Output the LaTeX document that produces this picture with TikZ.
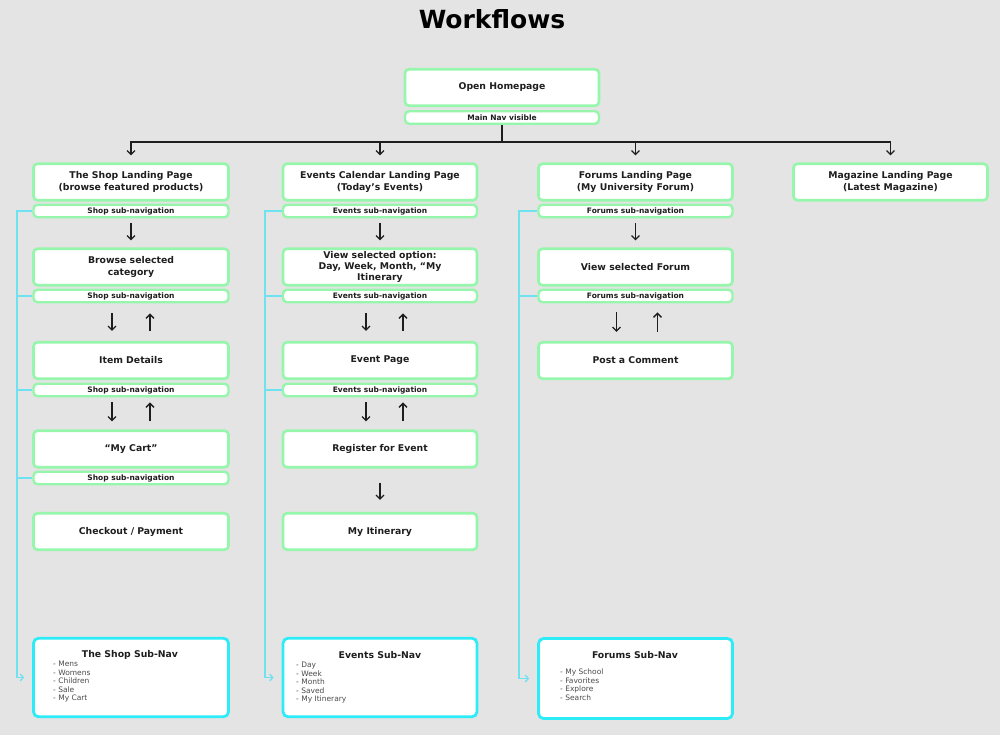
\documentclass[tikz,border=0pt]{standalone}
\usepackage{fontspec}
\setmainfont{DejaVu Sans}
\usetikzlibrary{arrows.meta}
\definecolor{bg}{RGB}{228,228,228}
\definecolor{ngreen}{RGB}{150,246,172}
\definecolor{ncyan}{RGB}{45,236,248}
\definecolor{rail}{RGB}{110,226,240}
\definecolor{ink}{RGB}{30,30,30}
\begin{document}
\begin{tikzpicture}[x=1pt,y=-1pt,
  wbox/.style={draw=ngreen, line width=2.6pt, fill=white, rounded corners=4pt,
    minimum width=194pt, minimum height=36.5pt, align=center, inner sep=1pt, text=ink,
    font=\bfseries\fontsize{9.3}{11.5}\selectfont},
  bar/.style={wbox, line width=2.4pt, minimum height=12.5pt, font=\bfseries\fontsize{7.5}{8}\selectfont},
  navbox/.style={draw=ncyan, line width=2.8pt, fill=white, rounded corners=5pt,
    minimum width=194pt, minimum height=78.5pt},
  navtitle/.style={font=\bfseries\fontsize{9.3}{11}\selectfont, text=ink, inner sep=0pt},
  navlist/.style={font=\fontsize{7.5}{8.5}\selectfont, text=ink!80, align=left, inner sep=0pt, anchor=north west},
  blk/.style={draw=ink, line width=1.3pt},
  blkarr/.style={blk, -{Straight Barb[length=4pt,width=8pt]}},
  cy/.style={draw=rail, line width=1.3pt},
  cyarr/.style={cy, -{Straight Barb[length=3pt,width=7pt]}}
]
\useasboundingbox[fill=bg] (0,0) rectangle (1000,735);

\node[font=\bfseries\fontsize{25}{28}\selectfont, text=black] (title) at (492,19.5) {Workflows};

% top
\node[wbox] (home) at (502,87.5) {Open Homepage};
\node[bar] (mainnav) at (502,117.5) {Main Nav visible};

% Shop column
\node[wbox, minimum width=195pt] (shopL) at (131,182) {The Shop Landing Page\\(browse featured products)};
\node[bar, minimum width=195pt] (shopS1) at (131,211) {Shop sub-navigation};
\node[wbox, minimum width=195pt] (shopB2) at (131,267) {Browse selected\\category};
\node[bar, minimum width=195pt] (shopS2) at (131,296) {Shop sub-navigation};
\node[wbox, minimum width=195pt] (shopB3) at (131,360.5) {Item Details};
\node[bar, minimum width=195pt] (shopS3) at (131,390) {Shop sub-navigation};
\node[wbox, minimum width=195pt] (shopB4) at (131,449) {“My Cart”};
\node[bar, minimum width=195pt] (shopS4) at (131,478) {Shop sub-navigation};
\node[wbox, minimum width=195pt] (shopB5) at (131,531.5) {Checkout / Payment};
\node[navbox, minimum width=195pt] (shopNav) at (131,677.5) {};
\node[navtitle] (shopNavT) at (130,655) {The Shop Sub-Nav};
\node[navlist] (shopNavL) at (53,661) {- Mens\\- Womens\\- Children\\- Sale\\- My Cart};

% Events column
\node[wbox] (evL) at (380,182) {Events Calendar Landing Page\\(Today’s Events)};
\node[bar] (evS1) at (380,211) {Events sub-navigation};
\node[wbox, font=\bfseries\fontsize{9.3}{11}\selectfont] (evB2) at (380,267) {View selected option:\\Day, Week, Month, “My\\Itinerary};
\node[bar] (evS2) at (380,296) {Events sub-navigation};
\node[wbox] (evB3) at (380,360.5) {Event Page};
\node[bar] (evS3) at (380,390) {Events sub-navigation};
\node[wbox] (evB4) at (380,449) {Register for Event};
\node[wbox] (evB5) at (380,531.5) {My Itinerary};
\node[navbox] (evNav) at (380,677.5) {};
\node[navtitle] (evNavT) at (380,655) {Events Sub-Nav};
\node[navlist] (evNavL) at (296,662) {- Day\\- Week\\- Month\\- Saved\\- My Itinerary};

% Forums column
\node[wbox] (foL) at (635.5,182) {Forums Landing Page\\(My University Forum)};
\node[bar] (foS1) at (635.5,211) {Forums sub-navigation};
\node[wbox] (foB2) at (635.5,267) {View selected Forum};
\node[bar] (foS2) at (635.5,296) {Forums sub-navigation};
\node[wbox] (foB3) at (635.5,360.5) {Post a Comment};
\node[navbox, minimum height=80pt] (foNav) at (635.5,678.5) {};
\node[navtitle] (foNavT) at (635,655) {Forums Sub-Nav};
\node[navlist] (foNavL) at (560,669) {- My School\\- Favorites\\- Explore\\- Search};

% Magazine
\node[wbox] (magL) at (890.5,182) {Magazine Landing Page\\(Latest Magazine)};

% main connectors
\coordinate (hub) at (502,142);
\draw[blk] (mainnav.south) -- (hub);
\draw[blkarr, shorten >=7pt] (hub) -| (shopL.north);
\draw[blkarr, shorten >=7pt] (hub) -| (evL.north);
\draw[blkarr, shorten >=7pt] (hub) -| (foL.north);
\draw[blkarr, shorten >=7pt] (hub) -| (magL.north);

% shop flow arrows
\draw[blkarr, shorten <=5pt, shorten >=7pt] (shopS1.south) -- (shopB2.north);
\draw[blkarr, shorten <=10pt, shorten >=10pt] ([xshift=-19pt]shopS2.south) -- ([xshift=-19pt]shopB3.north);
\draw[blkarr, shorten <=10pt, shorten >=10pt] ([xshift=19pt]shopB3.north) -- ([xshift=19pt]shopS2.south);
\draw[blkarr, shorten <=5pt, shorten >=8pt] ([xshift=-19pt]shopS3.south) -- ([xshift=-19pt]shopB4.north);
\draw[blkarr, shorten <=8pt, shorten >=5pt] ([xshift=19pt]shopB4.north) -- ([xshift=19pt]shopS3.south);

% events flow arrows
\draw[blkarr, shorten <=5pt, shorten >=7pt] (evS1.south) -- (evB2.north);
\draw[blkarr, shorten <=10pt, shorten >=10pt] ([xshift=-14pt]evS2.south) -- ([xshift=-14pt]evB3.north);
\draw[blkarr, shorten <=10pt, shorten >=10pt] ([xshift=23pt]evB3.north) -- ([xshift=23pt]evS2.south);
\draw[blkarr, shorten <=5pt, shorten >=8pt] ([xshift=-14pt]evS3.south) -- ([xshift=-14pt]evB4.north);
\draw[blkarr, shorten <=8pt, shorten >=5pt] ([xshift=23pt]evB4.north) -- ([xshift=23pt]evS3.south);
\draw[blkarr, shorten <=14pt, shorten >=12pt] (evB4.south) -- (evB5.north);

% forums flow arrows
\draw[blkarr, shorten <=5pt, shorten >=7pt] (foS1.south) -- (foB2.north);
\draw[blkarr, shorten <=9pt, shorten >=9pt] ([xshift=-19pt]foS2.south) -- ([xshift=-19pt]foB3.north);
\draw[blkarr, shorten <=9pt, shorten >=9pt] ([xshift=22pt]foB3.north) -- ([xshift=22pt]foS2.south);

% sub-nav rails
\coordinate (shopRail) at (17,0);
\coordinate (evRail) at (265,0);
\coordinate (foRail) at (519,0);

\draw[cyarr, shorten >=8pt] (shopS1.west) -- (shopS1.west -| shopRail) |- (shopNav.west);
\draw[cy] (shopS2.west) -- (shopS2.west -| shopRail);
\draw[cy] (shopS3.west) -- (shopS3.west -| shopRail);
\draw[cy] (shopS4.west) -- (shopS4.west -| shopRail);

\draw[cyarr, shorten >=8pt] (evS1.west) -- (evS1.west -| evRail) |- (evNav.west);
\draw[cy] (evS2.west) -- (evS2.west -| evRail);
\draw[cy] (evS3.west) -- (evS3.west -| evRail);

\draw[cyarr, shorten >=8pt] (foS1.west) -- (foS1.west -| foRail) |- (foNav.west);
\draw[cy] (foS2.west) -- (foS2.west -| foRail);
\end{tikzpicture}
\end{document}
